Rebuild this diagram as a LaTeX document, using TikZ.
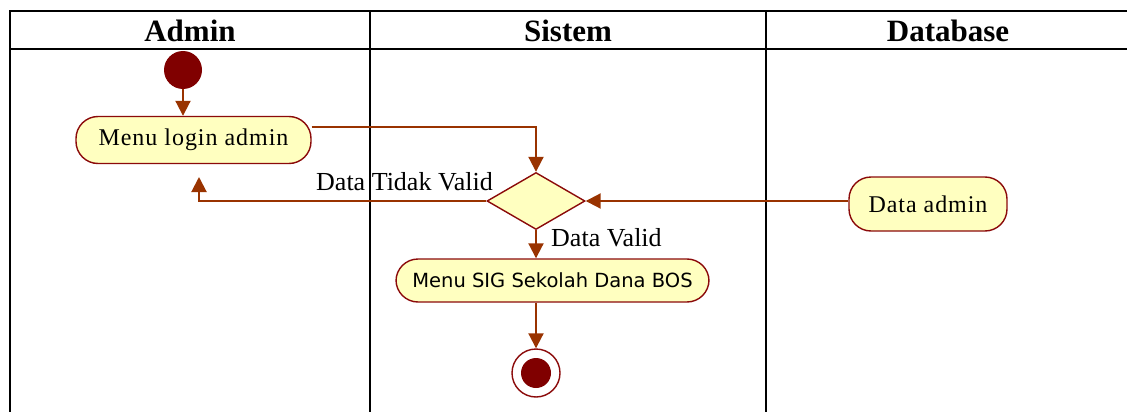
\documentclass[tikz,border=0pt]{standalone}
\usepackage{fontspec}
\setmainfont{Liberation Serif}
\newfontfamily\sigfont{DejaVu Sans}
\usetikzlibrary{shapes.geometric,arrows.meta}
\definecolor{flow}{HTML}{993300}
\definecolor{actfill}{HTML}{FFFFC0}
\definecolor{actline}{HTML}{8B0A0A}
\definecolor{dot}{HTML}{800000}
\begin{document}
\begin{tikzpicture}[x=1pt,y=-1pt,
  lane/.style={line width=2.4pt,black},
  header/.style={font=\fontsize{31}{34}\selectfont\bfseries,inner sep=0pt},
  activity/.style={draw=actline,fill=actfill,line width=1.4pt,rounded corners=22pt,inner sep=0pt,
     font=\fontsize{24}{26}\selectfont\addfontfeature{LetterSpace=4}},
  decision/.style={draw=actline,fill=actfill,line width=1.4pt,diamond,inner sep=0pt,
     minimum width=98pt,minimum height=57pt},
  flowarrow/.style={draw=flow,line width=2pt,-{Triangle[length=15pt,width=15pt]}},
  lbl/.style={font=\fontsize{26}{28}\selectfont,inner sep=0pt}]
\useasboundingbox (0,0) rectangle (1127,412);
% swimlanes
\draw[lane] (10,412) -- (10,11) -- (1127,11);
\draw[lane] (10,49) -- (1127,49);
\draw[lane] (370,11) -- (370,412);
\draw[lane] (766,11) -- (766,412);
\node[header] (hA) at (190,31) {Admin};
\node[header] (hS) at (568,31) {Sistem};
\node[header] (hD) at (948,31) {Database};
% nodes
\node[circle,fill=dot,minimum size=38pt,inner sep=0pt] (start) at (183,70) {};
\node[activity,minimum width=235pt,minimum height=47pt] (login) at (193.5,140) {Menu login admin};
\node[decision] (dec) at (536,201) {};
\node[activity,minimum width=158pt,minimum height=54pt] (dadmin) at (928,204) {Data admin};
\node[activity,minimum width=313pt,minimum height=43pt,font=\sigfont\fontsize{19.5}{22}\selectfont] (sig) at (552.5,280.5) {Menu SIG Sekolah Dana BOS};
\node[circle,draw=actline,line width=1.4pt,fill=white,minimum size=48pt,inner sep=0pt] (end) at (536,373) {};
\node[circle,fill=dot,minimum size=30pt,inner sep=0pt] (endin) at (end.center) {};
\coordinate (back) at (199,177);
% connectors
\draw[flowarrow] (start) -- (start |- login.north);
\draw[flowarrow] (login.east |- 0,127) -| (dec.north);
\draw[flowarrow] (dec.west) -| (back);
\draw[flowarrow] (dadmin.west |- dec.east) -- (dec.east);
\draw[flowarrow] (dec.south) -- (dec.south |- sig.north);
\draw[flowarrow] (sig.south -| end.north) -- (end.north);
% labels
\node[lbl,anchor=base west] (ltv) at (316,190) {Data Tidak Valid};
\node[lbl,anchor=base west] (lv) at (551,246) {Data Valid};
\end{tikzpicture}
\end{document}
